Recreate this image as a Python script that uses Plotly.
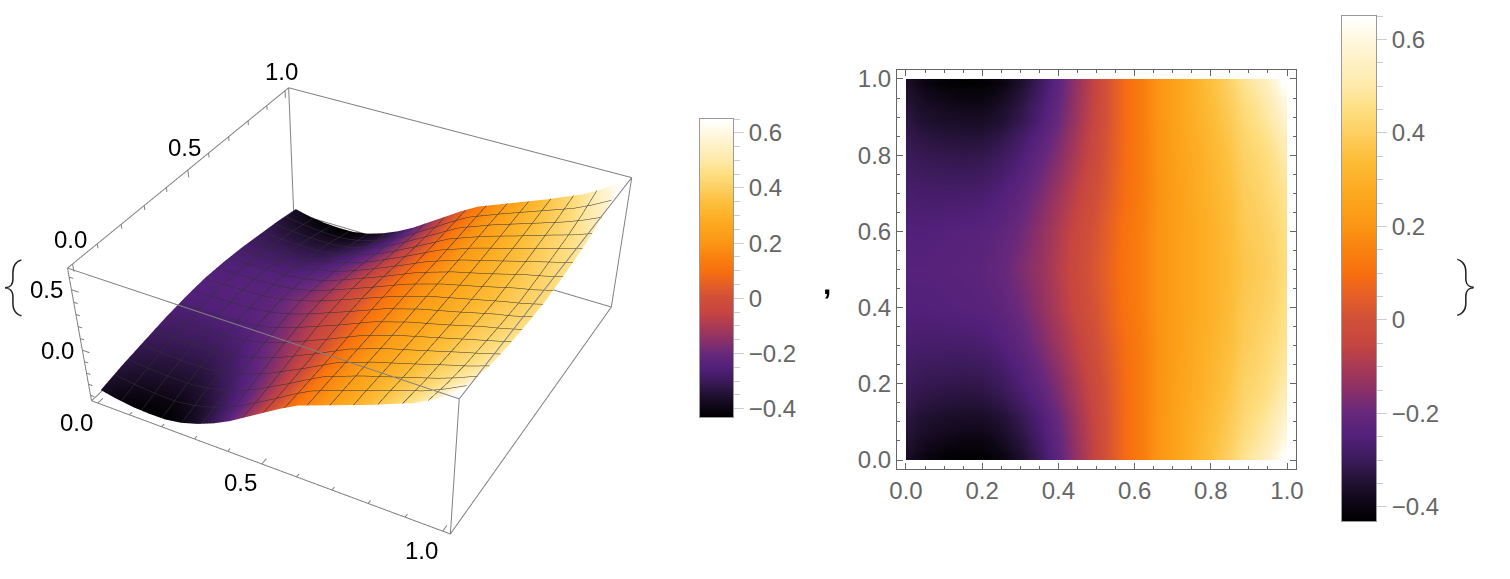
"""Surface and density plot of one function, each with its own gradient legend."""

import plotly.graph_objects as go

# Function values; rows follow grid_y, columns follow grid_x.
grid_x = [0.0, 0.05, 0.1, 0.15, 0.2, 0.25, 0.3, 0.35, 0.4, 0.45, 0.5, 0.55, 0.6, 0.7, 0.8, 0.9, 0.95, 1.0]
grid_y = [0.0, 0.05, 0.1, 0.2, 0.3, 0.4, 0.5, 0.6, 0.7, 0.8, 0.9, 0.95, 1.0]
values = [
    [-0.37, -0.40, -0.42, -0.427, -0.425, -0.40, -0.355, -0.295, -0.22, -0.13, -0.04, 0.05, 0.13, 0.24, 0.35, 0.47, 0.55, 0.65],
    [-0.35, -0.375, -0.39, -0.40, -0.40, -0.375, -0.335, -0.28, -0.21, -0.125, -0.04, 0.05, 0.13, 0.24, 0.345, 0.45, 0.52, 0.60],
    [-0.33, -0.35, -0.36, -0.365, -0.365, -0.345, -0.31, -0.26, -0.195, -0.115, -0.035, 0.05, 0.13, 0.24, 0.335, 0.43, 0.49, 0.56],
    [-0.30, -0.31, -0.315, -0.318, -0.315, -0.295, -0.26, -0.215, -0.16, -0.09, -0.02, 0.055, 0.13, 0.235, 0.32, 0.41, 0.45, 0.50],
    [-0.27, -0.275, -0.275, -0.275, -0.27, -0.25, -0.22, -0.175, -0.12, -0.06, 0.0, 0.065, 0.13, 0.23, 0.31, 0.39, 0.43, 0.47],
    [-0.25, -0.25, -0.245, -0.24, -0.235, -0.22, -0.19, -0.145, -0.09, -0.035, 0.02, 0.08, 0.14, 0.23, 0.30, 0.38, 0.41, 0.45],
    [-0.24, -0.24, -0.235, -0.232, -0.225, -0.205, -0.17, -0.13, -0.08, -0.025, 0.03, 0.085, 0.14, 0.23, 0.30, 0.37, 0.40, 0.44],
    [-0.25, -0.25, -0.245, -0.24, -0.235, -0.22, -0.19, -0.145, -0.09, -0.035, 0.02, 0.08, 0.14, 0.23, 0.30, 0.38, 0.41, 0.45],
    [-0.27, -0.275, -0.275, -0.275, -0.27, -0.25, -0.22, -0.175, -0.12, -0.06, 0.0, 0.065, 0.13, 0.23, 0.31, 0.39, 0.43, 0.47],
    [-0.30, -0.31, -0.315, -0.318, -0.315, -0.295, -0.26, -0.215, -0.16, -0.09, -0.02, 0.055, 0.13, 0.235, 0.32, 0.41, 0.45, 0.50],
    [-0.33, -0.35, -0.36, -0.365, -0.365, -0.345, -0.31, -0.26, -0.195, -0.115, -0.035, 0.05, 0.13, 0.24, 0.335, 0.43, 0.49, 0.56],
    [-0.35, -0.375, -0.39, -0.40, -0.40, -0.375, -0.335, -0.28, -0.21, -0.125, -0.04, 0.05, 0.13, 0.24, 0.345, 0.45, 0.52, 0.60],
    [-0.37, -0.40, -0.42, -0.427, -0.425, -0.40, -0.355, -0.295, -0.22, -0.13, -0.04, 0.05, 0.13, 0.24, 0.35, 0.47, 0.55, 0.65],
]

# Gradient legend: value at each colour stop, and the colour there.
legend_levels = [-0.43, -0.40, -0.35, -0.30, -0.25, -0.20, -0.15, -0.10, -0.05, 0.0, 0.05,
                 0.10, 0.15, 0.20, 0.25, 0.30, 0.35, 0.40, 0.45, 0.50, 0.60, 0.65]
legend_colors = ["#000000", "#0a0510", "#1f1030", "#3a1a58", "#52207a", "#66287c", "#8a3068",
                 "#a83a55", "#c64540", "#d04f38", "#e35e28", "#f86f0f", "#f9800f", "#fb9514",
                 "#fca31a", "#fdb028", "#fdbf3c", "#fdcf60", "#fede80", "#fee9a8", "#fff8e0",
                 "#ffffff"]

box_ticks = [0.0, 0.1, 0.2, 0.3, 0.4, 0.5, 0.6, 0.7, 0.8, 0.9, 1.0]
box_major = [0.0, 0.5, 1.0]
z_ticks = [-0.4, -0.3, -0.2, -0.1, 0.0, 0.1, 0.2, 0.3, 0.4, 0.5, 0.6]
z_major = [0.0, 0.5]

# The page is taller than the window so the 3D view gets the flatter perspective of the original.
WIDTH, HEIGHT = 1510, 1130
X_RANGE = [-0.02, 1.02]
Y_RANGE = [-0.02, 1.02]
Z_RANGE = [-0.45, 0.67]
CLIP_PAD = 0.003  # lines exactly on the scene bounds get clipped away
LEVEL_MIN, LEVEL_MAX = legend_levels[0], legend_levels[-1]
FONT = "Liberation Sans"
GREY = "#666666"


def cell_edges(centers):
    """Cell borders that stop exactly at the first and last grid value."""
    mids = [(a + b) / 2 for a, b in zip(centers, centers[1:])]
    return [centers[0]] + mids + [centers[-1]]


def padded(axis_range):
    return [axis_range[0] - CLIP_PAD, axis_range[1] + CLIP_PAD]


def box_edges():
    """The 12 edges of the 3D frame as one broken line."""
    x0, x1 = X_RANGE
    y0, y1 = Y_RANGE
    z0, z1 = Z_RANGE
    xs, ys, zs = [], [], []
    for z in (z0, z1):
        xs += [x0, x1, x1, x0, x0, None]
        ys += [y0, y0, y1, y1, y0, None]
        zs += [z, z, z, z, z, None]
    for x, y in ((x0, y0), (x1, y0), (x1, y1), (x0, y1)):
        xs += [x, x, None]
        ys += [y, y, None]
        zs += [z0, z1, None]
    return xs, ys, zs


def box_tick_marks():
    """Short inward ticks on the three labelled edges."""
    xs, ys, zs = [], [], []
    x0, y0, z0, z1 = X_RANGE[0], Y_RANGE[0], Z_RANGE[0], Z_RANGE[1]
    for t in box_ticks:
        size = 0.022 if t in box_major else 0.012
        xs += [t, t, None]
        ys += [y0, y0 + size, None]
        zs += [z0, z0, None]
        size = 0.06 if t in box_major else 0.035
        xs += [x0, x0, None]
        ys += [t, t, None]
        zs += [z1, z1 - size, None]
    for t in z_ticks:
        size = 0.022 if t in z_major else 0.012
        xs += [x0, x0 + size, None]
        ys += [y0, y0, None]
        zs += [t, t, None]
    return xs, ys, zs


def scene_label(x, y, z, text, xshift, yshift):
    return {"x": x, "y": y, "z": z, "text": text, "showarrow": False, "xshift": xshift,
            "yshift": yshift, "font": {"family": FONT, "size": 24, "color": "#000000"}}


def legend_axes(x_name, y_name, x_px, y_px):
    """Hidden x axis and ticked y axis for one gradient legend."""
    x_axis = {"domain": [x_px[0] / WIDTH, x_px[1] / WIDTH], "range": [0, 1], "anchor": y_name,
              "showticklabels": False, "ticks": "", "showgrid": False, "zeroline": False,
              "showline": True, "linecolor": "#999999", "mirror": True}
    y_axis = {"domain": [1 - y_px[1] / HEIGHT, 1 - y_px[0] / HEIGHT],
              "range": [LEVEL_MIN, LEVEL_MAX], "anchor": x_name, "side": "right", "dtick": 0.2,
              "tick0": 0, "ticks": "outside", "ticklen": 10, "tickcolor": "#cccccc",
              "minor": {"dtick": 0.05, "tick0": 0, "ticks": "outside", "ticklen": 6,
                        "tickcolor": "#cccccc", "showgrid": False},
              "showgrid": False, "zeroline": False, "showline": True, "linecolor": "#999999",
              "mirror": True, "tickfont": {"family": FONT, "size": 24, "color": GREY}}
    return x_axis, y_axis


span = LEVEL_MAX - LEVEL_MIN
colorscale = [[(v - LEVEL_MIN) / span, c] for v, c in zip(legend_levels, legend_colors)]
legend_z = [[v, v] for v in legend_levels]
mesh = {"show": True, "start": 0, "end": 1, "size": 1 / 16, "color": "#303030", "width": 2}

fig = go.Figure()
fig.add_trace(go.Surface(
    x=grid_x, y=grid_y, z=values, coloraxis="coloraxis",
    lighting={"ambient": 0.85, "diffuse": 0.2, "specular": 0, "roughness": 1, "fresnel": 0},
    contours={"x": mesh, "y": mesh}, hoverinfo="skip",
))
for xs, ys, zs in (box_edges(), box_tick_marks()):
    fig.add_trace(go.Scatter3d(x=xs, y=ys, z=zs, mode="lines", showlegend=False, hoverinfo="skip",
                               line={"color": "#808080", "width": 2}))

fig.add_trace(go.Heatmap(x=cell_edges(grid_x), y=cell_edges(grid_y), z=values, zsmooth="best",
                         coloraxis="coloraxis", xaxis="x", yaxis="y"))
fig.add_trace(go.Heatmap(x=[0, 1], y=legend_levels, z=legend_z, zsmooth="best",
                         coloraxis="coloraxis", xaxis="x2", yaxis="y2"))
fig.add_trace(go.Heatmap(x=[0, 1], y=legend_levels, z=legend_z, zsmooth="best",
                         coloraxis="coloraxis", xaxis="x3", yaxis="y3"))

density_axis = {
    "showgrid": False, "zeroline": False, "showline": True, "linecolor": GREY, "linewidth": 1,
    "mirror": "ticks", "ticks": "inside", "ticklen": 6, "tickcolor": GREY, "dtick": 0.2,
    "tick0": 0, "tickformat": ".1f",
    "minor": {"dtick": 0.05, "tick0": 0, "ticks": "inside", "ticklen": 3, "tickcolor": GREY,
              "showgrid": False},
    "tickfont": {"family": FONT, "size": 24, "color": GREY},
}
legend_left = legend_axes("x2", "y2", (700, 733), (119, 417))
legend_right = legend_axes("x3", "y3", (1342, 1376), (16, 521))

fig.update_layout(
    width=WIDTH, height=HEIGHT,
    margin={"l": 0, "r": 0, "t": 0, "b": 0, "pad": 0, "autoexpand": False},
    paper_bgcolor="#ffffff", plot_bgcolor="#ffffff", showlegend=False,
    coloraxis={"colorscale": colorscale, "cmin": LEVEL_MIN, "cmax": LEVEL_MAX, "showscale": False},
    xaxis={**density_axis, "domain": [897 / WIDTH, 1296 / WIDTH], "range": [-0.0236, 1.0236],
           "anchor": "y"},
    yaxis={**density_axis, "domain": [1 - 469 / HEIGHT, 1 - 70 / HEIGHT], "range": [-0.0236, 1.0236],
           "anchor": "x"},
    xaxis2=legend_left[0], yaxis2=legend_left[1],
    xaxis3=legend_right[0], yaxis3=legend_right[1],
    scene={
        "domain": {"x": [0, 0.479], "y": [0, 1]},
        "aspectmode": "manual", "aspectratio": {"x": 1, "y": 1, "z": 0.39},
        "camera": {"eye": {"x": 1.367, "y": -2.52, "z": 1.96}, "up": {"x": 0, "y": 0, "z": 1},
                   "center": {"x": 0.196, "y": -0.362, "z": -0.564}},
        "xaxis": {"visible": False, "range": padded(X_RANGE)},
        "yaxis": {"visible": False, "range": padded(Y_RANGE)},
        "zaxis": {"visible": False, "range": padded(Z_RANGE)},
        "annotations": [
            scene_label(0.0, Y_RANGE[0], Z_RANGE[0], "0.0", -21, -19),
            scene_label(0.5, Y_RANGE[0], Z_RANGE[0], "0.5", -21, -19),
            scene_label(1.0, Y_RANGE[0], Z_RANGE[0], "1.0", -21, -19),
            scene_label(X_RANGE[0], 0.0, Z_RANGE[1], "0.0", -2, 24),
            scene_label(X_RANGE[0], 0.5, Z_RANGE[1], "0.5", -3, 22),
            scene_label(X_RANGE[0], 1.0, Z_RANGE[1], "1.0", -4, 19),
            scene_label(X_RANGE[0], Y_RANGE[0], 0.5, "0.5", -25, 0),
            scene_label(X_RANGE[0], Y_RANGE[0], 0.0, "0.0", -25, 0),
        ],
    },
    annotations=[
        {"x": 12 / WIDTH, "y": 1 - 284 / HEIGHT, "xref": "paper", "yref": "paper", "text": "{",
         "xanchor": "center", "yanchor": "middle", "showarrow": False,
         "font": {"family": "Roboto", "weight": 100, "size": 58, "color": "#222222"}},
        {"x": 1466 / WIDTH, "y": 1 - 284 / HEIGHT, "xref": "paper", "yref": "paper", "text": "}",
         "xanchor": "center", "yanchor": "middle", "showarrow": False,
         "font": {"family": "Roboto", "weight": 100, "size": 58, "color": "#222222"}},
        {"x": 827 / WIDTH, "y": 1 - 283 / HEIGHT, "xref": "paper", "yref": "paper",
         "text": "<b>,</b>", "xanchor": "center", "yanchor": "middle", "showarrow": False,
         "font": {"family": FONT, "size": 30, "color": "#000000"}},
    ],
)

fig.write_html("out.html", config={"displayModeBar": False},
               post_script="document.body.style.margin = '0'; document.body.style.overflow = 'hidden';")
